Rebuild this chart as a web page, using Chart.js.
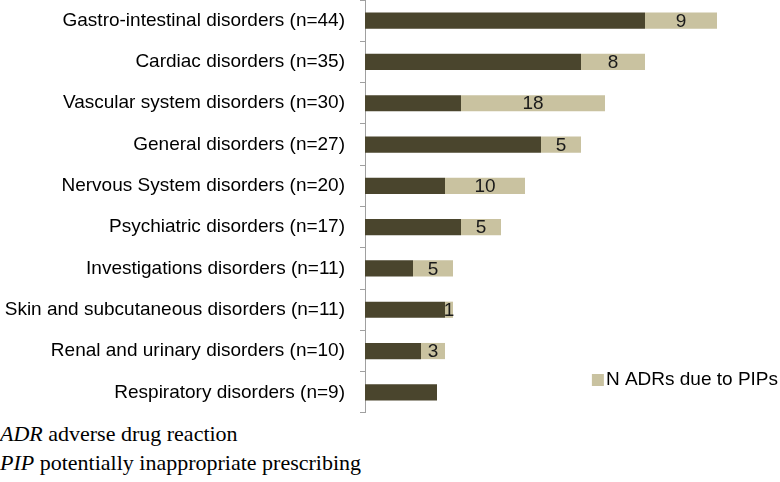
<!DOCTYPE html>
<html>
<head>
<meta charset="utf-8">
<script src="https://cdn.jsdelivr.net/npm/chart.js@4/dist/chart.umd.min.js"></script>
<style>
  html, body { margin: 0; padding: 0; background: #fff; }
  #wrap { position: relative; width: 780px; height: 413px; }
  .note { position: absolute; left: 0; font: 22px "Liberation Serif", "Times New Roman", serif; color: #000; white-space: nowrap; line-height: 1; }
</style>
</head>
<body>
<div id="wrap"><canvas id="c"></canvas></div>
<div class="note" style="top:423px"><i>ADR</i> adverse drug reaction</div>
<div class="note" style="top:452px"><i>PIP</i> potentially inappropriate prescribing</div>
<script>
// ── data ──
const categories = [
  'Gastro-intestinal disorders (n=44)',
  'Cardiac disorders (n=35)',
  'Vascular system disorders (n=30)',
  'General disorders (n=27)',
  'Nervous System disorders (n=20)',
  'Psychiatric disorders (n=17)',
  'Investigations disorders (n=11)',
  'Skin and subcutaneous disorders (n=11)',
  'Renal and urinary disorders (n=10)',
  'Respiratory disorders (n=9)'
];
const otherAdrs = [35, 27, 12, 22, 10, 12, 6, 10, 7, 9];
const pipAdrs   = [9, 8, 18, 5, 10, 5, 5, 1, 3, 0];

const DARK = '#4a452d';
const LIGHT = '#c9c2a0';
const FONT = '"Liberation Sans", Arial, sans-serif';

// value labels centred on the light segment
const segLabels = {
  id: 'segLabels',
  afterDatasetsDraw(chart) {
    const { ctx } = chart;
    const meta = chart.getDatasetMeta(1);
    ctx.save();
    ctx.font = '19px ' + FONT;
    ctx.fillStyle = '#1a1a1a';
    ctx.textAlign = 'center';
    ctx.textBaseline = 'middle';
    meta.data.forEach((bar, i) => {
      if (!pipAdrs[i]) return;
      ctx.fillText(String(pipAdrs[i]), (bar.x + bar.base) / 2, bar.y + 1);
    });
    ctx.restore();
  }
};

// single-entry legend, bottom right
const pipLegend = {
  id: 'pipLegend',
  afterDraw(chart) {
    const { ctx } = chart;
    const label = chart.data.datasets[1].label;
    ctx.save();
    ctx.font = '19px ' + FONT;
    const w = ctx.measureText(label).width;
    const x = 778 - w;
    ctx.fillStyle = LIGHT;
    ctx.fillRect(x - 14, 374, 12, 12);
    ctx.fillStyle = '#000';
    ctx.textBaseline = 'middle';
    ctx.fillText(label, x, 380);
    ctx.restore();
  }
};

new Chart(document.getElementById('c'), {
  type: 'bar',
  data: {
    labels: categories,
    datasets: [
      { label: 'N other ADRs', data: otherAdrs, backgroundColor: DARK, barPercentage: 0.98, categoryPercentage: 0.4 },
      { label: 'N ADRs due to PIPs', data: pipAdrs, backgroundColor: LIGHT, barPercentage: 0.98, categoryPercentage: 0.4 }
    ]
  },
  options: {
    indexAxis: 'y', responsive: true, maintainAspectRatio: false, animation: false,
    layout: { padding: { top: 0, right: 15, bottom: 0, left: 0 } },
    plugins: { legend: { display: false }, tooltip: { enabled: false } },
    scales: {
      x: { stacked: true, min: 0, max: 50, display: false },
      y: {
        stacked: true,
        afterFit(scale) { scale.width = 365; scale.paddingTop = 0; scale.paddingBottom = 0; },
        border: { color: '#a0a0a0', width: 1 },
        grid: { drawOnChartArea: false, tickLength: 5, color: '#a0a0a0', offset: true },
        ticks: { padding: 15, color: '#000', font: { size: 19, family: FONT } }
      }
    }
  },
  plugins: [segLabels, pipLegend]
});
</script>
</body>
</html>
